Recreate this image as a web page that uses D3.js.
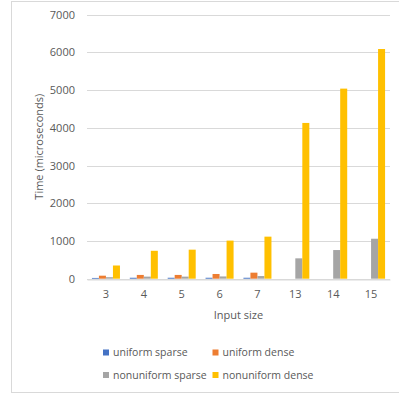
<!DOCTYPE html>
<html>
<head>
<meta charset="utf-8">
<script src="https://cdn.jsdelivr.net/npm/d3@7"></script>
<style>
  html, body { margin: 0; padding: 0; background: #fff; }
  svg { display: block; }
  text { font-family: "Open Sans", sans-serif; fill: #595959; }
</style>
</head>
<body>
<svg id="chart" width="399" height="396"></svg>
<script>
// Input sizes along the horizontal axis
const categories = ["3", "4", "5", "6", "7", "13", "14", "15"];

// Timings in microseconds for each variant (null = not measured)
const uniformSparse     = [20, 25, 25, 25, 25, null, null, null];
const uniformDense      = [80, 100, 100, 125, 160, null, null, null];
const nonuniformSparse  = [40, 55, 55, 60, 70, 540, 760, 1060];
const nonuniformDense   = [350, 740, 770, 1010, 1115, 4130, 5040, 6090];

const seriesNames  = ["uniform sparse", "uniform dense", "nonuniform sparse", "nonuniform dense"];
const seriesValues = [uniformSparse, uniformDense, nonuniformSparse, nonuniformDense];
const seriesColors = ["#4472C4", "#ED7D31", "#A5A5A5", "#FFC000"];

const yTicks = [0, 1000, 2000, 3000, 4000, 5000, 6000, 7000];

const svg = d3.select("#chart");

// outer chart frame
svg.append("rect")
  .attr("x", 11.5).attr("y", 1.5)
  .attr("width", 400).attr("height", 391)
  .attr("fill", "#fff").attr("stroke", "#D9D9D9").attr("stroke-width", 1);

const plot = { left: 87, right: 390, top: 14.7, bottom: 278.7 };

const x = d3.scaleBand()
  .domain(categories)
  .range([plot.left, plot.right])
  .paddingInner(0.26)
  .paddingOuter(0.13);

const x1 = d3.scaleBand()
  .domain(d3.range(seriesNames.length))
  .range([0, x.bandwidth()]);

const y = d3.scaleLinear()
  .domain([0, 7000])
  .range([plot.bottom, plot.top]);

// horizontal gridlines
svg.append("g")
  .selectAll("line")
  .data(yTicks)
  .join("line")
  .attr("x1", plot.left).attr("x2", plot.right)
  .attr("y1", d => Math.round(y(d)) + 0.5)
  .attr("y2", d => Math.round(y(d)) + 0.5)
  .attr("stroke", "#D9D9D9").attr("stroke-width", 1);

// y axis labels
const yAxis = d3.axisLeft(y).tickValues(yTicks).tickFormat(d3.format("d")).tickSize(0).tickPadding(12);
const gy = svg.append("g").attr("transform", `translate(${plot.left},0)`).call(yAxis);
gy.select(".domain").remove();
gy.selectAll("text")
  .style("font-family", "'Open Sans', sans-serif")
  .style("font-size", "11px")
  .attr("fill", "#595959");

// bars
const groups = svg.append("g")
  .selectAll("g")
  .data(categories)
  .join("g")
  .attr("transform", d => `translate(${x(d)},0)`);

groups.selectAll("rect")
  .data((c, i) => seriesValues.map((vals, s) => ({ s, v: vals[i] })).filter(d => d.v != null))
  .join("rect")
  .attr("x", d => x1(d.s))
  .attr("width", x1.bandwidth())
  .attr("y", d => y(d.v))
  .attr("height", d => y(0) - y(d.v))
  .attr("fill", d => seriesColors[d.s]);

// x axis baseline and labels
const xAxis = d3.axisBottom(x).tickSize(0).tickPadding(11);
const gx = svg.append("g").attr("transform", `translate(0,${Math.round(plot.bottom) + 0.5})`).call(xAxis);
gx.select(".domain").attr("stroke", "#D9D9D9");
gx.selectAll("text")
  .style("font-family", "'Open Sans', sans-serif")
  .style("font-size", "11px")
  .attr("fill", "#595959");

// axis titles
svg.append("text")
  .attr("x", (plot.left + plot.right) / 2)
  .attr("y", 319)
  .attr("text-anchor", "middle")
  .style("font-size", "11px")
  .text("Input size");

svg.append("text")
  .attr("transform", `translate(43,${(plot.top + plot.bottom) / 2}) rotate(-90)`)
  .attr("text-anchor", "middle")
  .style("font-size", "11px")
  .text("Time (microseconds)");

// legend: two rows of two entries
const legendPos = [
  { x: 103, y: 352.5 }, { x: 212.5, y: 352.5 },
  { x: 103, y: 375 },   { x: 212.5, y: 375 }
];
const legend = svg.append("g")
  .selectAll("g")
  .data(seriesNames)
  .join("g")
  .attr("transform", (d, i) => `translate(${legendPos[i].x},${legendPos[i].y})`);

legend.append("rect")
  .attr("x", 0).attr("y", -3)
  .attr("width", 6).attr("height", 6)
  .attr("fill", (d, i) => seriesColors[i]);

legend.append("text")
  .attr("x", 10).attr("y", 0)
  .attr("dy", "0.35em")
  .style("font-size", "10.5px")
  .text(d => d);
</script>
</body>
</html>
